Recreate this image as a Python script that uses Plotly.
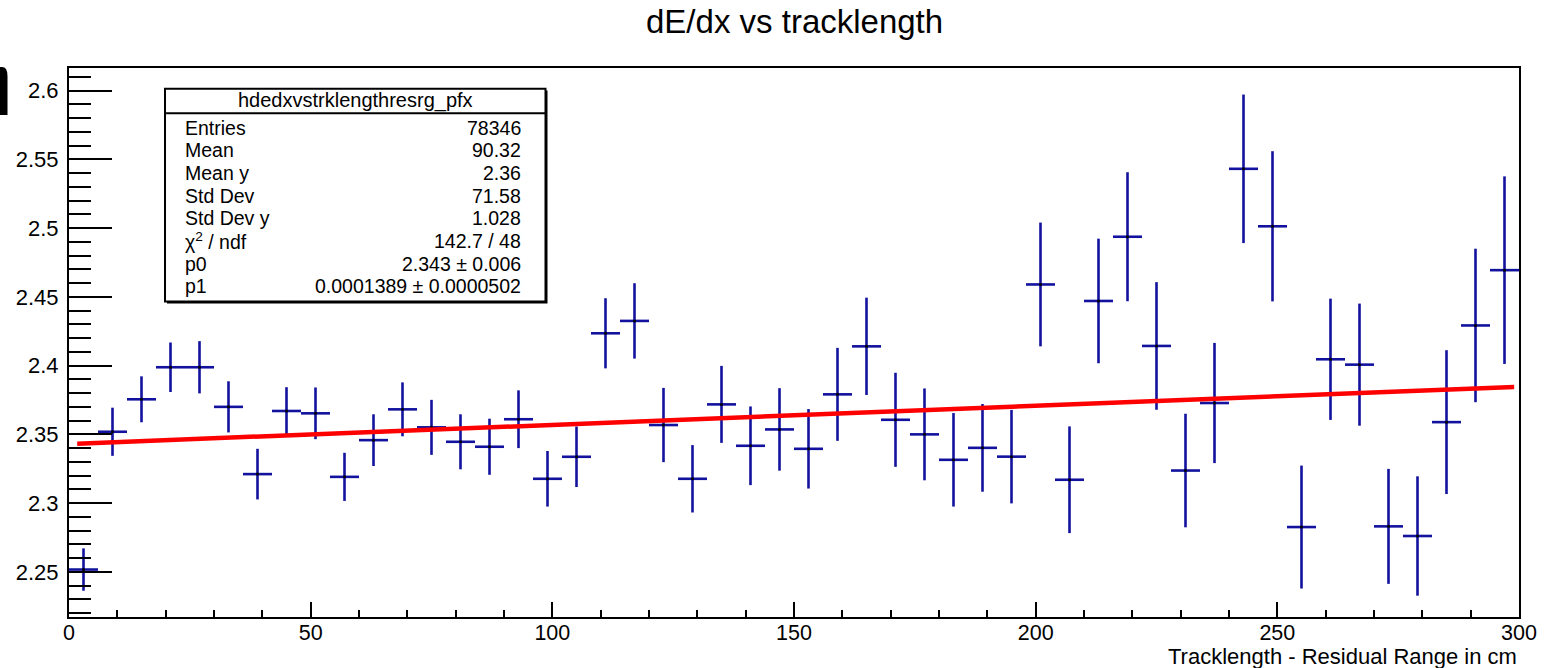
import plotly.graph_objects as go

# ---------------- data ----------------
bin_centers = [3, 9, 15, 21, 27, 33, 39, 45, 51, 57, 63, 69, 75, 81, 87, 93, 99,
               105, 111, 117, 123, 129, 135, 141, 147, 153, 159, 165, 171, 177,
               183, 189, 195, 201, 207, 213, 219, 225, 231, 237, 243, 249, 255,
               261, 267, 273, 279, 285, 291, 297]
dedx_mean = [2.2517, 2.3519, 2.3755, 2.3988, 2.3988, 2.3700, 2.3211, 2.3670, 2.3653, 2.3191,
             2.3458, 2.3682, 2.3551, 2.3446, 2.3410, 2.3610, 2.3177, 2.3337, 2.4235, 2.4325,
             2.3568, 2.3177, 2.3718, 2.3417, 2.3536, 2.3395, 2.3791, 2.4140, 2.3606, 2.3500,
             2.3315, 2.3402, 2.3338, 2.4590, 2.3170, 2.4470, 2.4937, 2.4143, 2.3237, 2.3728,
             2.5431, 2.5013, 2.2826, 2.4046, 2.4007, 2.2831, 2.2761, 2.3589, 2.4292, 2.4694]
dedx_err = [0.0154, 0.0175, 0.0167, 0.0180, 0.0190, 0.0186, 0.0184, 0.0173, 0.0188, 0.0175,
            0.0188, 0.0196, 0.0200, 0.0200, 0.0204, 0.0210, 0.0202, 0.0220, 0.0255, 0.0274,
            0.0270, 0.0245, 0.0280, 0.0286, 0.0300, 0.0289, 0.0338, 0.0354, 0.0342, 0.0334,
            0.0340, 0.0319, 0.0340, 0.0450, 0.0388, 0.0453, 0.0469, 0.0464, 0.0413, 0.0437,
            0.0540, 0.0546, 0.0447, 0.0441, 0.0444, 0.0418, 0.0434, 0.0523, 0.0558, 0.0682]
bin_half_width = 3

fit_p0 = 2.343
fit_p1 = 0.0001389
fit_range = [1.7, 299]

y_tick_vals = [2.25, 2.3, 2.35, 2.4, 2.45, 2.5, 2.55, 2.6]
y_tick_text = ["2.25", "2.3", "2.35", "2.4", "2.45", "2.5", "2.55", "2.6"]
x_tick_vals = [0, 50, 100, 150, 200, 250, 300]
x_tick_text = ["0", "50", "100", "150", "200", "250", "300"]

stats_title = "hdedxvstrklengthresrg_pfx"
stats_labels = ["Entries", "Mean", "Mean y", "Std Dev", "Std Dev y",
                "\u03c7<sup>2</sup> / ndf", "p0", "p1"]
stats_values = ["78346", "90.32", "2.36", "71.58", "1.028", "142.7 / 48",
                "2.343 \u00b1 0.006", "0.0001389 \u00b1 0.0000502"]

# ---------------- layout geometry (pixels) ----------------
W, H = 1562, 668
ML, MR, MT, MB = 69, 43, 68, 51
PW = W - ML - MR
PH = H - MT - MB


def px(x):
    return (x - ML) / PW


def py(y):
    return (H - MB - y) / PH


FONT = "Liberation Sans, Arial, Helvetica, sans-serif"
BLUE = "#12129e"

fig = go.Figure()

fig.add_trace(go.Scatter(
    x=bin_centers, y=dedx_mean, mode="markers",
    marker=dict(color="black", size=3),
    error_y=dict(type="data", array=dedx_err, visible=True, color=BLUE, thickness=2.6, width=0),
    error_x=dict(type="constant", value=bin_half_width, visible=True, color=BLUE, thickness=2.6, width=0),
    showlegend=False, hoverinfo="x+y",
))

fit_x = fit_range
fit_y = [fit_p0 + fit_p1 * v for v in fit_x]
fig.add_trace(go.Scatter(
    x=fit_x, y=fit_y, mode="lines",
    line=dict(color="#ff0000", width=4.5),
    showlegend=False,
))

shapes = []
# stats box shadow and box
shapes.append(dict(type="rect", xref="paper", yref="paper",
                   x0=px(167), x1=px(547.5), y0=py(303.5), y1=py(90.5),
                   fillcolor="black", line=dict(width=0), layer="above"))
shapes.append(dict(type="rect", xref="paper", yref="paper",
                   x0=px(165), x1=px(545.5), y0=py(301.5), y1=py(88.7),
                   fillcolor="white", line=dict(color="black", width=2), layer="above"))
shapes.append(dict(type="line", xref="paper", yref="paper",
                   x0=px(165), x1=px(545.5), y0=py(113.3), y1=py(113.3),
                   line=dict(color="black", width=2), layer="above"))
# partial black glyph at top-left edge
shapes.append(dict(type="path", xref="paper", yref="paper",
                   path=(f"M {px(0)},{py(115)} L {px(0)},{py(67)} L {px(2)},{py(67)} "
                         f"Q {px(7.5)},{py(67)} {px(7.5)},{py(76)} L {px(7.5)},{py(115)} Z"),
                   fillcolor="black", line=dict(width=0), layer="above"))

annotations = []
annotations.append(dict(text="dE/dx vs tracklength", xref="paper", yref="paper",
                        x=px(794), y=py(22), xanchor="center", yanchor="middle",
                        showarrow=False, font=dict(family=FONT, size=33, color="black")))
annotations.append(dict(text="Tracklength - Residual Range in cm", xref="paper", yref="paper",
                        x=px(1519), y=py(656), xanchor="right", yanchor="middle",
                        showarrow=False, font=dict(family=FONT, size=22, color="black")))
annotations.append(dict(text=stats_title, xref="paper", yref="paper",
                        x=px(355), y=py(101), xanchor="center", yanchor="middle",
                        showarrow=False, font=dict(family=FONT, size=20, color="black")))
row0, dy = 127.5, 22.7
for i, (lab, val) in enumerate(zip(stats_labels, stats_values)):
    yy = py(row0 + i * dy)
    annotations.append(dict(text=lab, xref="paper", yref="paper", x=px(183), y=yy,
                            xanchor="left", yanchor="middle", showarrow=False,
                            font=dict(family=FONT, size=19.5, color="black")))
    annotations.append(dict(text=val, xref="paper", yref="paper", x=px(523), y=yy,
                            xanchor="right", yanchor="middle", showarrow=False,
                            font=dict(family=FONT, size=19.5, color="black")))

fig.update_layout(
    width=W, height=H,
    margin=dict(l=ML, r=MR, t=MT, b=MB, pad=0, autoexpand=False),
    paper_bgcolor="white", plot_bgcolor="white",
    font=dict(family=FONT, size=21, color="black"),
    shapes=shapes, annotations=annotations,
    showlegend=False,
)
fig.update_xaxes(
    range=[0, 300], showgrid=False, zeroline=False, automargin=False,
    showline=True, linecolor="black", linewidth=2, mirror=True,
    ticks="inside", ticklen=15, tickwidth=2, tickcolor="black",
    tickmode="array", tickvals=x_tick_vals, ticktext=x_tick_text,
    tickfont=dict(family=FONT, size=21.5, color="black"),
    ticklabelstandoff=-5,
    minor=dict(ticks="inside", ticklen=7, tickwidth=2, tickcolor="black",
               tickmode="linear", tick0=0, dtick=10, showgrid=False),
)
fig.update_yaxes(
    range=[2.2172, 2.6164], showgrid=False, zeroline=False, automargin=False,
    showline=True, linecolor="black", linewidth=2, mirror=True,
    ticks="inside", ticklen=43, tickwidth=2, tickcolor="black",
    tickmode="array", tickvals=y_tick_vals, ticktext=y_tick_text,
    tickfont=dict(family=FONT, size=22, color="black"),
    ticklabelstandoff=4,
    minor=dict(ticks="inside", ticklen=22, tickwidth=2, tickcolor="black",
               tickmode="linear", tick0=2.2, dtick=0.01, showgrid=False),
)

fig.write_html("out.html",
               config={"displayModeBar": False},
               post_script="document.body.style.margin='0';document.body.style.overflow='hidden';")
